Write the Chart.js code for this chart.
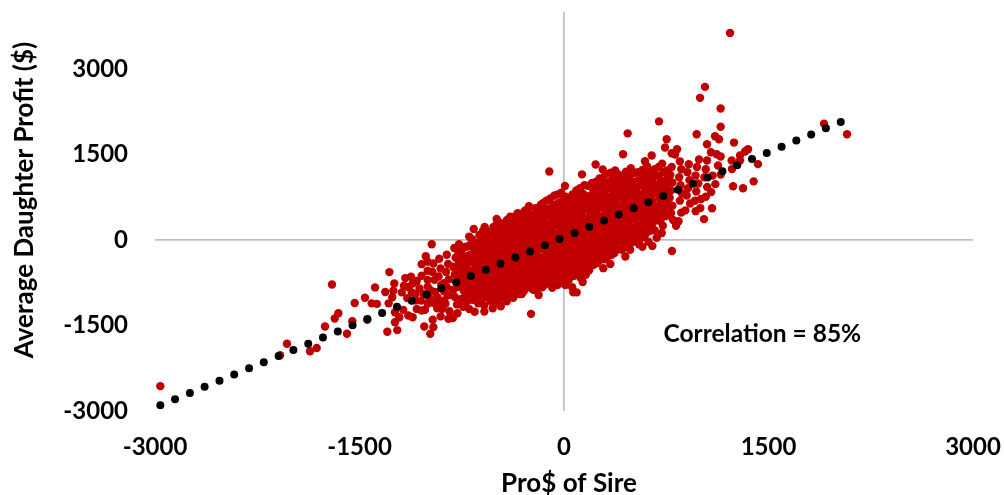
<!DOCTYPE html>
<html>
<head>
<meta charset="utf-8">
<title>Pro$ of Sire</title>
<script src="https://cdn.jsdelivr.net/npm/chart.js@4"></script>
<style>
  html, body { margin: 0; padding: 0; background: #fff; }
  #wrap { width: 1004px; height: 495px; }
</style>
</head>
<body>
<div id="wrap"><canvas id="chart" width="1004" height="495"></canvas></div>
<script>
// tick labels
var xTicks = [-3000, -1500, 0, 1500, 3000];
var yTicks = [-3000, -1500, 0, 1500, 3000];

// black trend points
var trendX = [-2961,-2853,-2744,-2636,-2527,-2419,-2310,-2202,-2093,-1985,-1876,-1768,-1659,-1551,-1442,-1334,-1225,-1117,-1008,-900,-791,-683,-574,-466,-357,-249,-140,-32,77,185,294,402,511,619,728,836,945,1053,1162,1270,1379,1487,1596,1704,1813,1921,2030];
var trendY = [-2900,-2792,-2684,-2576,-2468,-2360,-2252,-2144,-2036,-1928,-1820,-1712,-1604,-1496,-1388,-1280,-1172,-1064,-956,-848,-740,-632,-524,-416,-308,-200,-92,16,124,232,340,448,556,664,772,880,988,1096,1204,1312,1420,1528,1636,1744,1852,1960,2068];

// red points, outliers first
var sireOutliers = [
  [1218,3633],[1034,2686],[998,2494],[1149,2307],[697,2081],[1149,1988],[467,1871],[973,1854],[1907,2040],[2076,1854],
  [753,1767],[1108,1819],[1137,1767],[1247,1709],[1049,1680],[741,1622],[829,1592],[790,1523],[814,1500],[433,1505],
  [643,1482],[1078,1540],[1120,1505],[1149,1465],[1350,1592],[1328,1552],[1291,1482],[1291,1395],[1230,1395],[990,1412],
  [1049,1395],[1423,1331],[1232,1244],[1130,1308],[232,1325],[284,1238],[132,1151],[594,1383],[1391,1029],[1240,942],
  [1313,907],[1086,558],[1027,366],[822,249],[1005,720],[966,506],[717,122],[792,-192],[7,947],[-108,1203],
  [-242,-1296],[-970,-75],[-662,192],[-582,227],[-494,371],[-257,593],[-181,535],[-770,-75],[-677,-5],[-86,-837],
  [68,-919],[93,-919],[137,-738],[288,-494],[648,-105],[550,-75],[-584,-1256],[-523,-1198],[-464,-1163],[-420,-1076],
  [-372,-1012],[-848,-1383],[-782,-1285],[-225,-872],[-186,-965],
  [-2961,-2564],[-2032,-1819],[-2083,-2023],[-1814,-1895],[-1863,-1953],[-1702,-780],[-1753,-1517],[-1682,-1378],[-1655,-1285],[-1553,-1425],
  [-1592,-1645],[-1535,-1104],[-1460,-1012],[-1443,-1400],[-1411,-1111],[-1372,-1121],[-1386,-832],[-1281,-563],[-1311,-912],[-1286,-1111],
  [-1245,-762],[-1260,-1006],[-1252,-889],[-1240,-1268],[-1208,-1355],[-1240,-1442],[-1296,-1610],[-1223,-1581],[-1179,-1226],[-1190,-919],
  [-1174,-802],[-1164,-668],[-1122,-645],[-1110,-762],[-1117,-919],[-1142,-1325],[-1110,-1355],[-1080,-1209],[-1044,-1238],[-1020,-1226],
  [-1049,-1064],[-1025,-1517],[-963,-1400],[-958,-1529],[-981,-1645],[-1014,-284],[-1044,-424],[-958,-413],[-1044,-628],[-1000,-540],
  [-1060,-850],[-1000,-820],[-950,-700],[-990,-1010],[-945,-910],[-1090,-1060],
  [-1000,-700],[-980,-880],[-960,-1100],[-930,-1000],[-930,-1200],[-880,-760],[-880,-900],[-880,-1060],[-1030,-950],[-1000,-1120],
  [-1080,-720],[-1140,-830],[-1150,-1020],[-1090,-950],[-1000,-380],[-965,-560]
];

// red points of the dense band, left to right
var sireBand = [
  [-915,-330],[-905,-500],[-920,-640],[-900,-790],[-910,-1090],[-895,-1210],[-905,-1340],
  [-860,-260],[-850,-420],[-865,-560],[-845,-690],[-860,-830],[-850,-970],[-870,-1120],[-840,-1250],
  [-805,-140],[-795,-310],[-815,-470],[-800,-600],[-790,-730],[-810,-870],[-800,-1000],[-785,-1130],[-815,-1370],
  [-750,-180],[-740,-350],[-760,-490],[-745,-620],[-755,-760],[-735,-890],[-750,-1030],[-740,-1170],
  [-695,60],[-705,-110],[-690,-260],[-700,-400],[-710,-530],[-685,-660],[-700,-800],[-690,-940],[-710,-1070],[-695,-1210],
  [-650,-60],[-640,-190],[-655,-330],[-635,-460],[-650,-590],[-640,-720],[-660,-850],[-645,-980],[-630,-1110],[-655,-1260],
  [-595,160],[-605,30],[-590,-100],[-600,-240],[-585,-370],[-610,-500],[-595,-630],[-600,-770],[-590,-900],[-605,-1040],[-585,-1150],
  [-545,100],[-535,-30],[-555,-160],[-540,-290],[-550,-420],[-530,-550],[-545,-680],[-535,-810],[-555,-940],[-540,-1070],
  [-490,310],[-500,170],[-485,40],[-495,-90],[-505,-220],[-490,-350],[-500,-480],[-485,-610],[-495,-740],[-505,-870],[-490,-1000],[-480,-1110],
  [-445,230],[-435,100],[-450,-30],[-440,-160],[-455,-290],[-435,-420],[-445,-550],[-430,-680],[-450,-810],[-440,-940],[-425,-1040],
  [-395,410],[-385,280],[-400,150],[-390,20],[-380,-110],[-400,-240],[-390,-370],[-380,-500],[-395,-630],[-385,-760],[-400,-890],[-385,-1000],
  [-340,470],[-350,340],[-335,210],[-345,80],[-330,-50],[-350,-180],[-340,-310],[-330,-440],[-345,-570],[-335,-700],[-350,-830],[-330,-950],
  [-285,520],[-295,400],[-280,270],[-290,140],[-300,10],[-285,-120],[-295,-250],[-280,-380],[-290,-510],[-300,-640],[-285,-770],[-295,-900],
  [-240,450],[-230,320],[-245,190],[-235,60],[-225,-70],[-245,-200],[-235,-330],[-225,-460],[-240,-590],[-230,-720],[-245,-840],
  [-170,620],[-185,470],[-175,340],[-190,210],[-180,80],[-170,-50],[-190,-180],[-180,-310],[-170,-440],[-185,-570],[-175,-700],[-160,-830],
  [-130,690],[-120,540],[-135,410],[-125,280],[-115,150],[-135,20],[-125,-110],[-115,-240],[-130,-370],[-120,-500],[-135,-630],[-125,-760],
  [-70,780],[-80,620],[-65,490],[-75,360],[-85,230],[-70,100],[-80,-30],[-65,-160],[-75,-290],[-85,-420],[-70,-550],[-80,-680],
  [-20,830],[-10,690],[-25,560],[-15,430],[-5,300],[-25,170],[-15,40],[-5,-90],[-20,-220],[-10,-350],[-25,-480],[-15,-610],[-5,-760],
  [40,720],[30,600],[45,470],[35,340],[25,210],[45,80],[35,-50],[25,-180],[40,-310],[30,-440],[45,-570],[35,-700],[60,-830],
  [90,870],[100,730],[85,600],[95,470],[105,340],[90,210],[100,80],[85,-50],[95,-180],[105,-310],[90,-440],[100,-570],[120,-660],
  [150,960],[140,810],[155,680],[145,550],[135,420],[155,290],[145,160],[135,30],[150,-100],[140,-230],[155,-360],[145,-490],[160,-610],
  [205,1000],[215,860],[200,730],[210,600],[220,470],[205,340],[215,210],[200,80],[210,-50],[220,-180],[205,-310],[215,-440],
  [260,1080],[250,930],[265,800],[255,670],[245,540],[265,410],[255,280],[245,150],[260,20],[250,-110],[265,-240],[255,-370],
  [310,1160],[320,1010],[305,880],[315,750],[325,620],[310,490],[320,360],[305,230],[315,100],[325,-30],[310,-160],[320,-290],[340,-420],
  [375,1220],[365,1070],[380,940],[370,810],[360,680],[380,550],[370,420],[360,290],[375,160],[365,30],[380,-100],[370,-230],
  [425,1130],[435,1000],[420,870],[430,740],[440,610],[425,480],[435,350],[420,220],[430,90],[440,-40],[425,-170],[450,-290],
  [490,1260],[480,1110],[495,980],[485,850],[475,720],[495,590],[485,460],[475,330],[490,200],[480,70],[495,-50],[485,-170],
  [540,1190],[550,1050],[535,920],[545,790],[555,660],[540,530],[550,400],[535,270],[545,140],[555,10],[575,-120],
  [610,1290],[600,1150],[615,1020],[605,890],[595,760],[615,630],[605,500],[595,370],[610,240],[600,110],[620,-30],
  [665,1240],[655,1100],[670,960],[660,820],[650,690],[670,560],[660,430],[650,300],[665,170],[680,40],
  [720,1340],[730,1190],[715,1050],[725,910],[735,770],[720,640],[730,510],[715,380],[725,250],
  [790,1280],[780,1140],[795,1010],[785,870],[775,740],[795,600],[785,470],[800,350],
  [850,1380],[860,1240],[845,1100],[855,960],[865,820],[850,690],[860,480],[840,330],
  [915,1330],[905,1190],[920,1050],[910,910],[900,780],[925,640],[890,520],
  [975,1280],[965,1130],[985,990],[970,850],[960,690],[1000,560],
  [1040,1240],[1030,1100],[1050,930],[1040,760],[1090,1130],[1110,980],[1080,840],[1150,1150]
];

// more red points where the band is solid
var sireCore = [
  [-775,-250],[-770,-400],[-780,-550],[-768,-680],[-775,-820],
  [-722,-120],[-718,-290],[-725,-430],[-715,-560],[-722,-700],[-712,-830],[-720,-970],
  [-670,10],[-665,-130],[-675,-260],[-660,-390],[-670,-530],[-662,-650],[-668,-790],[-660,-920],[-672,-1050],
  [-620,90],[-618,-40],[-625,-170],[-612,-300],[-622,-430],[-615,-560],[-625,-700],[-612,-830],[-620,-960],[-615,-1090],
  [-568,160],[-565,40],[-572,-90],[-560,-220],[-570,-350],[-562,-480],[-568,-610],[-560,-740],[-572,-870],[-565,-1000],
  [-518,230],[-515,105],[-522,-30],[-512,-160],[-520,-290],[-515,-420],[-522,-550],[-510,-680],[-518,-810],[-512,-940],[-520,-1060],
  [-468,300],[-465,170],[-470,40],[-462,-90],[-472,-225],[-465,-350],[-470,-480],[-460,-610],[-468,-740],[-462,-870],[-470,-990],
  [-418,350],[-412,215],[-420,85],[-410,-45],[-418,-175],[-412,-305],[-420,-435],[-410,-565],[-418,-695],[-412,-825],[-420,-950],
  [-365,410],[-362,280],[-370,150],[-358,20],[-368,-110],[-360,-240],[-366,-370],[-358,-500],[-368,-630],[-360,-760],[-366,-890],
  [-315,460],[-312,335],[-320,205],[-308,75],[-318,-55],[-310,-185],[-316,-315],[-308,-445],[-318,-575],[-310,-705],[-316,-835],[-310,-950],
  [-262,480],[-258,350],[-266,220],[-255,90],[-264,-40],[-256,-170],[-262,-300],[-254,-430],[-264,-560],[-256,-690],[-262,-820],
  [-208,560],[-204,410],[-212,280],[-200,150],[-210,20],[-202,-110],[-208,-240],[-200,-370],[-210,-500],[-202,-630],[-208,-760],[-200,-880],
  [-152,650],[-148,500],[-156,370],[-145,240],[-154,110],[-146,-20],[-152,-150],[-144,-280],[-154,-410],[-146,-540],[-152,-670],[-144,-790],
  [-100,730],[-96,560],[-104,430],[-92,300],[-102,170],[-94,40],[-100,-90],[-92,-220],[-102,-350],[-94,-480],[-100,-610],[-92,-740],
  [-46,800],[-42,650],[-50,520],[-38,390],[-48,260],[-40,130],[-46,0],[-38,-130],[-48,-260],[-40,-390],[-46,-520],[-38,-650],[-48,-790],
  [12,760],[16,640],[8,510],[20,380],[10,250],[18,120],[12,-10],[20,-140],[10,-270],[18,-400],[12,-530],[20,-660],[10,-790],
  [62,800],[66,670],[58,540],[70,410],[60,280],[68,150],[62,20],[70,-110],[60,-240],[68,-370],[62,-500],[70,-630],
  [118,910],[122,770],[114,640],[126,510],[116,380],[124,250],[118,120],[126,-10],[116,-140],[124,-270],[118,-400],[126,-530],
  [175,950],[180,770],[172,640],[184,510],[174,380],[182,250],[176,120],[184,-10],[174,-140],[182,-270],[176,-400],[184,-530],
  [232,1020],[236,890],[228,760],[240,630],[230,500],[238,370],[232,240],[240,110],[230,-20],[238,-150],[232,-280],[240,-410],
  [285,1090],[290,960],[282,830],[294,700],[284,570],[292,440],[286,310],[294,180],[284,50],[292,-80],[286,-210],[294,-340],
  [342,1180],[346,1040],[338,910],[350,780],[340,650],[348,520],[342,390],[350,260],[340,130],[348,0],[342,-130],[350,-260],
  [398,1150],[402,1010],[394,880],[406,750],[396,620],[404,490],[398,360],[406,230],[396,100],[404,-30],[398,-160],
  [455,1200],[460,1060],[452,930],[464,800],[454,670],[462,540],[456,410],[464,280],[454,150],[462,20],[456,-110],
  [515,1170],[520,1020],[512,890],[524,760],[514,630],[522,500],[516,370],[524,240],[514,110],[522,-20],
  [575,1230],[580,1090],[572,960],[584,830],[574,700],[582,570],[576,440],[584,310],[574,180],[582,50],
  [635,1210],[640,1070],[632,940],[644,810],[634,680],[642,550],[636,420],[644,290],[634,160],
  [695,1280],[690,1130],[700,990],[692,860],[702,730],[694,600],[700,470],[692,340],
  [755,1220],[760,1080],[750,950],[762,820],[752,680],[760,560],[750,420]
];

var redPoints = sireOutliers.concat(sireBand, sireCore);

function toXY(xs, ys) {
  return xs.map(function (x, i) { return { x: x, y: ys[i] }; });
}

var fontFamily = 'Lato, "Open Sans", sans-serif';
var tickFont = { family: fontFamily, size: 24, weight: 'bold' };
var axisGray = '#bfbfbf';

function zeroLine(ctx) {
  return ctx.tick && ctx.tick.value === 0 ? axisGray : 'rgba(0,0,0,0)';
}

function noPadding(axis) {
  axis.paddingTop = 0;
  axis.paddingBottom = 0;
  axis.paddingLeft = 0;
  axis.paddingRight = 0;
}

// axis titles and the correlation note
var textPlugin = {
  id: 'texts',
  afterDraw: function (chart) {
    var c = chart.ctx;
    c.save();
    c.fillStyle = '#000';
    c.textBaseline = 'middle';
    c.textAlign = 'center';
    c.font = 'bold 26px ' + fontFamily;
    c.fillText('Pro$ of Sire', 569, 484);
    c.save();
    c.translate(25, 200);
    c.rotate(-Math.PI / 2);
    c.fillText('Average Daughter Profit ($)', 0, 0);
    c.restore();
    c.textAlign = 'left';
    c.font = 'bold 24.5px ' + fontFamily;
    c.fillText('Correlation = 85%', chart.scales.x.getPixelForValue(730), chart.scales.y.getPixelForValue(-1645));
    c.restore();
  }
};

var chart = new Chart(document.getElementById('chart').getContext('2d'), {
  type: 'scatter',
  data: {
    datasets: [
      {
        label: 'Trend',
        data: toXY(trendX, trendY),
        backgroundColor: '#000',
        borderColor: '#000',
        pointRadius: 4,
        pointBorderWidth: 0
      },
      {
        label: 'Sires',
        data: redPoints.map(function (p) { return { x: p[0], y: p[1] }; }),
        backgroundColor: '#c00000',
        borderColor: '#c00000',
        pointRadius: 4.2,
        pointBorderWidth: 0
      }
    ]
  },
  options: {
    responsive: false,
    animation: false,
    layout: { padding: { top: 12, right: 31, left: 0, bottom: 0 } },
    plugins: { legend: { display: false }, tooltip: { enabled: false } },
    scales: {
      x: {
        type: 'linear',
        min: -3000,
        max: 3000,
        afterBuildTicks: function (axis) { axis.ticks = xTicks.map(function (v) { return { value: v }; }); },
        afterFit: function (axis) { axis.height = 84; noPadding(axis); },
        grid: { color: zeroLine, lineWidth: 1.7, drawTicks: false },
        border: { display: false },
        ticks: { color: '#000', font: tickFont, padding: 22, maxRotation: 0, callback: function (v) { return String(v); } }
      },
      y: {
        type: 'linear',
        min: -3000,
        max: 4000,
        afterBuildTicks: function (axis) { axis.ticks = yTicks.map(function (v) { return { value: v }; }); },
        afterFit: function (axis) { axis.width = 155; noPadding(axis); },
        grid: { color: zeroLine, lineWidth: 1.7, drawTicks: false },
        border: { display: false },
        ticks: { color: '#000', font: tickFont, padding: 27, callback: function (v) { return String(v); } }
      }
    }
  },
  plugins: [textPlugin]
});
</script>
</body>
</html>
